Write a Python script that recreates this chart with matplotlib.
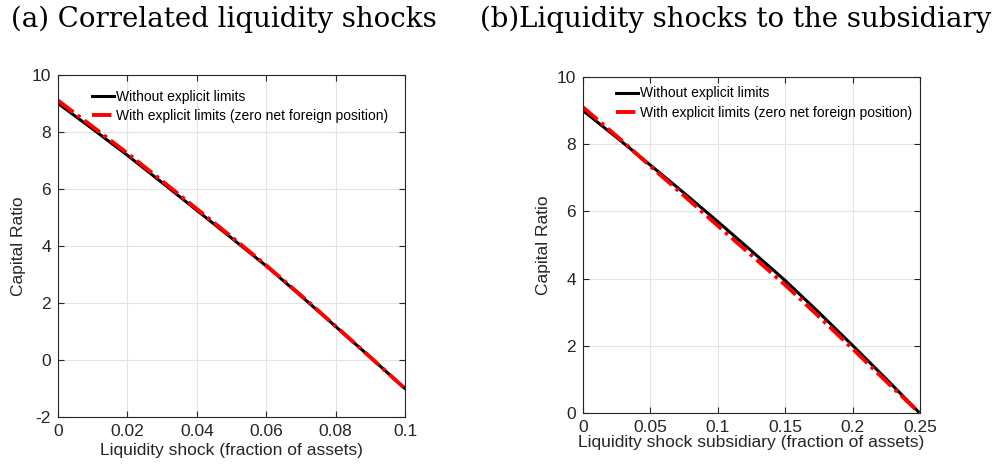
import numpy as np
from matplotlib import pyplot as plt

# panel (a): correlated liquidity shocks
shock_a = [0.0, 0.01, 0.02, 0.03, 0.04, 0.05, 0.06, 0.07, 0.08, 0.09, 0.1]
nolim_a = [9.0, 8.1, 7.18, 6.22, 5.25, 4.28, 3.3, 2.25, 1.18, 0.1, -1.0]
lim_a = [9.1, 8.18, 7.25, 6.28, 5.3, 4.32, 3.32, 2.27, 1.19, 0.1, -1.0]

# panel (b): liquidity shocks to the subsidiary
shock_b = [0.0, 0.025, 0.05, 0.075, 0.1, 0.125, 0.15, 0.175, 0.2, 0.225, 0.25]
nolim_b = [9.0, 8.2, 7.38, 6.55, 5.7, 4.83, 3.95, 3.0, 2.02, 1.02, 0.0]
lim_b = [9.1, 8.24, 7.35, 6.47, 5.58, 4.7, 3.82, 2.88, 1.92, 0.95, 0.0]

label_nolim = "Without explicit limits"
label_lim = "With explicit limits (zero net foreign position)"

plt.rcParams["font.family"] = ["Liberation Sans", "DejaVu Sans"]
plt.rcParams["axes.unicode_minus"] = False

fig = plt.figure(figsize=(10, 4.65), dpi=100)
ax1 = fig.add_axes([0.058, 0.103, 0.347, 0.736])
ax2 = fig.add_axes([0.5827, 0.111, 0.3373, 0.724])

dashdot = (0, (5, 1.3, 0.9, 1.3))


def style(ax, anchor):
    ax.grid(True, color="#e3e3e3", linewidth=0.8)
    ax.set_axisbelow(True)
    ax.tick_params(direction="in", top=True, right=True, labelsize=12.5,
                   colors="#262626", length=4, width=0.8, pad=5)
    for s in ax.spines.values():
        s.set_color("#262626")
        s.set_linewidth(0.8)
    ax.set_ylabel("Capital Ratio", fontsize=12.5, color="#262626")
    ax.legend(loc="upper left", frameon=False, fontsize=10, handlelength=1.6,
              handletextpad=0.1, labelspacing=0.4, borderaxespad=0.3,
              bbox_to_anchor=anchor)


ax1.plot(shock_a, nolim_a, color="black", linewidth=2.2, label=label_nolim)
ax1.plot(shock_a, lim_a, linestyle=dashdot, color="red", linewidth=2.8, label=label_lim)
ax1.set_xlim(0, 0.1)
ax1.set_ylim(-2, 10)
ax1.set_xticks([0, 0.02, 0.04, 0.06, 0.08, 0.1])
ax1.set_xticklabels(["0", "0.02", "0.04", "0.06", "0.08", "0.1"])
ax1.set_yticks([-2, 0, 2, 4, 6, 8, 10])
ax1.set_xlabel("Liquidity shock (fraction of assets)", fontsize=12.5,
               color="#262626", labelpad=3)
style(ax1, (0.07, 0.985))

ax2.plot(shock_b, nolim_b, color="black", linewidth=2.2, label=label_nolim)
ax2.plot(shock_b, lim_b, linestyle=dashdot, color="red", linewidth=2.8, label=label_lim)
ax2.set_xlim(0, 0.25)
ax2.set_ylim(0, 10)
ax2.set_xticks([0, 0.05, 0.1, 0.15, 0.2, 0.25])
ax2.set_xticklabels(["0", "0.05", "0.1", "0.15", "0.2", "0.25"])
ax2.set_yticks([0, 2, 4, 6, 8, 10])
ax2.set_xlabel("Liquidity shock subsidiary (fraction of assets)", fontsize=12.5,
               color="#262626", labelpad=0)
style(ax2, (0.07, 1.0))

fig.text(0.224, 0.958, "(a) Correlated liquidity shocks", fontsize=19.9,
         family="DejaVu Serif", ha="center", va="center")
fig.text(0.736, 0.958, "(b)Liquidity shocks to the subsidiary", fontsize=19.9,
         family="DejaVu Serif", ha="center", va="center")

fig.savefig("out.png")
